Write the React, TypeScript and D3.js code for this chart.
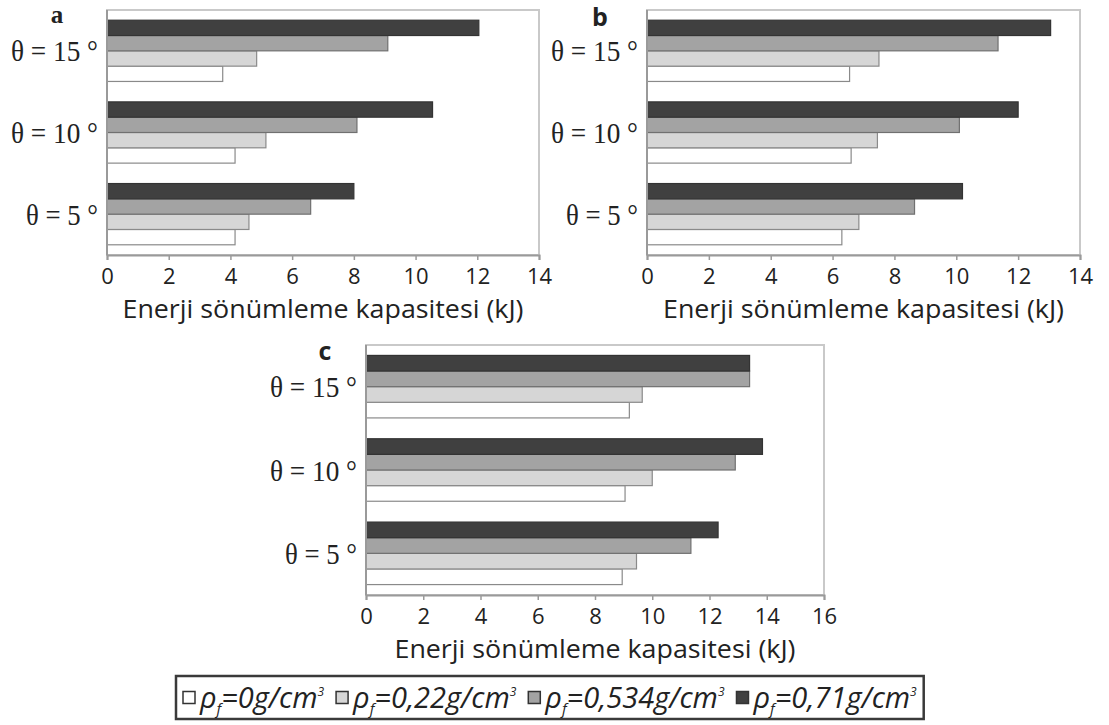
import React, { useEffect, useRef } from "react";
import * as d3 from "d3";

// angles (top to bottom) and fibre densities (series order)
const angles = [15, 10, 5];
const densities = ["0", "0,22", "0,534", "0,71"];
const ticksA = [0, 2, 4, 6, 8, 10, 12, 14];
const ticksB = [0, 2, 4, 6, 8, 10, 12, 14];
const ticksC = [0, 2, 4, 6, 8, 10, 12, 14, 16];

// values per angle [15, 10, 5], kJ
const aRho0 = [3.75, 4.15, 4.15];
const aRho022 = [4.85, 5.15, 4.6];
const aRho0534 = [9.1, 8.1, 6.6];
const aRho071 = [12.05, 10.55, 8.0];

const bRho0 = [6.55, 6.6, 6.3];
const bRho022 = [7.5, 7.45, 6.85];
const bRho0534 = [11.35, 10.1, 8.65];
const bRho071 = [13.05, 12.0, 10.2];

const cRho0 = [9.2, 9.05, 8.95];
const cRho022 = [9.65, 10.0, 9.45];
const cRho0534 = [13.4, 12.9, 11.35];
const cRho071 = [13.4, 13.85, 12.3];

const axisTitle = "Enerji sönümleme kapasitesi (kJ)";

const fills = ["#ffffff", "#d6d6d6", "#a3a3a3", "#404040"];
const strokes = ["#8a8a8a", "#8a8a8a", "#707070", "#333333"];
const sans = "'Open Sans', 'Noto Sans', sans-serif";
const serif = "'Liberation Serif', 'DejaVu Serif', serif";

interface Panel {
    letter: string;
    letterFont: string;
    letterX: number;
    letterY: number;
    series: number[][];
    ticks: number[];
    left: number;
    right: number;
    top: number;
    bottom: number;
}

const panels: Panel[] = [
    { letter: "a", letterFont: serif, letterX: 57, letterY: 23, series: [aRho0, aRho022, aRho0534, aRho071], ticks: ticksA, left: 107, right: 539, top: 10, bottom: 255 },
    { letter: "b", letterFont: sans, letterX: 600, letterY: 26, series: [bRho0, bRho022, bRho0534, bRho071], ticks: ticksB, left: 647, right: 1080, top: 10, bottom: 255 },
    { letter: "c", letterFont: sans, letterX: 325, letterY: 360, series: [cRho0, cRho022, cRho0534, cRho071], ticks: ticksC, left: 366, right: 824, top: 345, bottom: 595 },
];

const App: React.FC = () => {
    const svgRef = useRef<SVGSVGElement | null>(null);

    useEffect(() => {
        if (!svgRef.current) return;
        const svg = d3.select(svgRef.current);
        svg.selectAll("*").remove();

        panels.forEach((p) => {
            const g = svg.append("g");
            const xMax = p.ticks[p.ticks.length - 1];
            const x = d3.scaleLinear().domain([0, xMax]).range([p.left, p.right]);
            const y = d3
                .scaleBand()
                .domain(angles.map(String))
                .range([p.top, p.bottom])
                .paddingInner(0.25)
                .paddingOuter(0.125);
            // darkest series sits on top inside each group
            const ySub = d3
                .scaleBand()
                .domain(["3", "2", "1", "0"])
                .range([0, y.bandwidth()]);

            g.append("rect")
                .attr("x", p.left)
                .attr("y", p.top)
                .attr("width", p.right - p.left)
                .attr("height", p.bottom - p.top)
                .attr("fill", "#fff")
                .attr("stroke", "#c9c9c9")
                .attr("stroke-width", 2);

            p.series.forEach((vals, si) => {
                g.selectAll(null)
                    .data(vals)
                    .join("rect")
                    .attr("x", x(0))
                    .attr("y", (_d, i) => y(String(angles[i]))! + ySub(String(si))!)
                    .attr("width", (d) => x(d) - x(0))
                    .attr("height", ySub.bandwidth())
                    .attr("fill", fills[si])
                    .attr("stroke", strokes[si])
                    .attr("stroke-width", 1.2);
            });

            const ax = g
                .append("g")
                .attr("transform", `translate(0,${p.bottom})`)
                .call(d3.axisBottom(x).tickValues(p.ticks).tickSize(5).tickPadding(8).tickFormat(d3.format("d")));
            ax.select(".domain").attr("stroke", "#9a9a9a").attr("stroke-width", 2);
            ax.selectAll(".tick line").attr("stroke", "#9a9a9a").attr("stroke-width", 1.5);
            ax.selectAll(".tick text")
                .attr("font-family", sans)
                .attr("font-size", 22)
                .attr("fill", "#222");

            g.append("line")
                .attr("x1", p.left)
                .attr("x2", p.left)
                .attr("y1", p.top)
                .attr("y2", p.bottom)
                .attr("stroke", "#9a9a9a")
                .attr("stroke-width", 2);

            g.selectAll(null)
                .data(angles)
                .join("text")
                .attr("x", p.left - 9)
                .attr("y", (d) => y(String(d))! + y.bandwidth() / 2)
                .attr("dy", "0.35em")
                .attr("text-anchor", "end")
                .attr("font-family", serif)
                .attr("font-size", 30)
                .attr("textLength", (d) => (d >= 10 ? 87 : 72))
                .attr("lengthAdjust", "spacingAndGlyphs")
                .attr("fill", "#222")
                .text((d) => `θ = ${d} °`);

            g.append("text")
                .attr("x", (p.left + p.right) / 2)
                .attr("y", p.bottom + 63)
                .attr("text-anchor", "middle")
                .attr("font-family", sans)
                .attr("font-size", 25)
                .attr("textLength", 401)
                .attr("lengthAdjust", "spacingAndGlyphs")
                .attr("fill", "#222")
                .text(axisTitle);

            g.append("text")
                .attr("x", p.letterX)
                .attr("y", p.letterY)
                .attr("text-anchor", "middle")
                .attr("font-family", p.letterFont)
                .attr("font-weight", "bold")
                .attr("font-size", 25)
                .attr("fill", "#222")
                .text(p.letter);
        });

        // legend
        const boxLeft = 176;
        const boxTop = 676;
        const boxBottom = 719;
        const midY = (boxTop + boxBottom) / 2;
        const box = svg.append("rect")
            .attr("x", boxLeft)
            .attr("y", boxTop)
            .attr("height", boxBottom - boxTop)
            .attr("fill", "#fff")
            .attr("stroke", "#3a3a3a")
            .attr("stroke-width", 2.5);

        const items = densities.map((dens, si) => {
            const ig = svg.append("g");
            ig.append("rect")
                .attr("x", 0)
                .attr("y", midY - 6)
                .attr("width", 12)
                .attr("height", 12)
                .attr("fill", fills[si])
                .attr("stroke", "#333")
                .attr("stroke-width", 1.5);
            const t = ig.append("text")
                .attr("x", 17)
                .attr("y", midY)
                .attr("dy", "0.36em")
                .attr("font-family", sans)
                .attr("font-style", "italic")
                .attr("font-size", 29)
                .attr("fill", "#222");
            t.append("tspan").text("ρ");
            t.append("tspan").attr("font-size", 15).attr("dy", 6).text("f");
            t.append("tspan").attr("dy", -6).text(`=${dens}g/cm`);
            t.append("tspan").attr("font-size", 12).attr("dy", -12).text("3");
            const w = 17 + (t.node() as SVGTextElement).getComputedTextLength();
            return { ig, w };
        });
        const pad = 7;
        const gap = 12;
        let cx = boxLeft + pad;
        items.forEach((it, i) => {
            it.ig.attr("transform", `translate(${cx},0)`);
            cx += it.w + (i < items.length - 1 ? gap : 0);
        });
        box.attr("width", cx + pad - boxLeft);
    }, []);

    return (
        <div style={{ position: "absolute", left: 0, top: 0, width: 1109, height: 725, background: "#fff" }}>
            <svg ref={svgRef} width={1109} height={725} style={{ display: "block" }}></svg>
        </div>
    );
};

export default App;
